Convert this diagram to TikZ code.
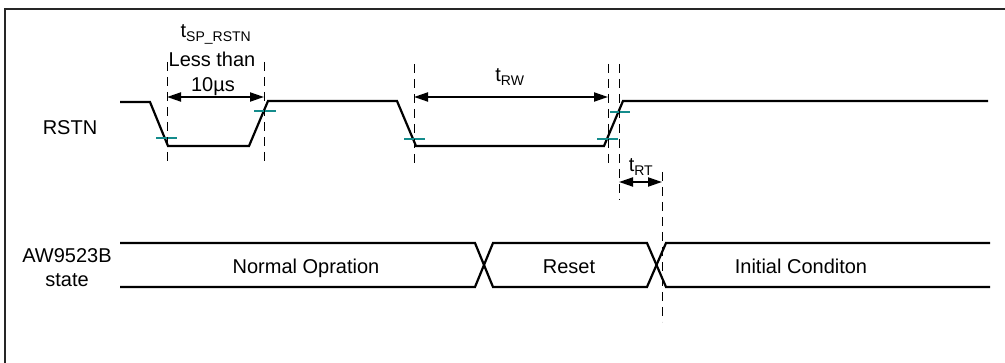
\documentclass[tikz,border=0pt]{standalone}
\usepackage{xcolor}
\usepackage{fontspec}
\setmainfont{Liberation Sans}
\usetikzlibrary{arrows.meta,positioning,calc}

\definecolor{tickteal}{RGB}{20,140,140}

\tikzset{
  sig/.style={line width=2.2pt, line join=miter},
  guide/.style={line width=1pt, dash pattern=on 9pt off 6pt},
  span/.style={{Triangle[length=14pt,width=9pt]}-{Triangle[length=14pt,width=9pt]}, line width=2pt},
  thresh/.style={draw=tickteal, line width=1.8pt},
  lbl/.style={font=\fontsize{20}{23}\selectfont, inner sep=0pt, anchor=base}
}

\begin{document}
\begin{tikzpicture}[x=1pt, y=-1pt]
    \useasboundingbox (0,0) rectangle (1005,363);
    % frame
    \draw [line width=2pt, draw=black!85] (5,363) -- (5,9) -- (1005,9);

    % labels
    \node (rstn) [lbl] at (70,135) {RSTN};
    \node (dev) [lbl] at (67,263) {AW9523B};
    \node (state) [lbl] at (67,287) {state};
    \node (tsp) [lbl] at (216,38) {t\textsubscript{SP\_RSTN}};
    \node (less) [lbl] at (212,67) {Less than};
    \node (tenus) [lbl] at (213,92) {10µs};
    \node (trw) [lbl] at (510,82) {t\textsubscript{RW}};
    \node (trt) [lbl] at (641,172) {t\textsubscript{RT}};
    \node (normal) [lbl] at (306,274) {Normal Opration};
    \node (reset) [lbl] at (569,274) {Reset};
    \node (initial) [lbl] at (801,274) {Initial Conditon};

    % RSTN waveform
    \draw [sig] (120,102) -- (150,102) -- (168,146) -- (249,146) -- (268,101)
        -- (397,101) -- (416,146) -- (604,146) -- (623,101) -- (988,101);

    % threshold ticks
    \draw [thresh] (156,138) -- (177,138);
    \draw [thresh] (254,111) -- (276,111);
    \draw [thresh] (404,139) -- (425,139);
    \draw [thresh] (597,139) -- (618,139);
    \draw [thresh] (610,112) -- (630,112);

    % state bus
    \draw [sig] (120,243) -- (475,243) -- (493,287) -- (647,287) -- (666,243) -- (990,243);
    \draw [sig] (120,287) -- (475,287) -- (493,243) -- (647,243) -- (666,287) -- (990,287);

    % guides
    \coordinate (g1t) at (167,62);  \coordinate (g1b) at (167,166);
    \coordinate (g2t) at (264,62);  \coordinate (g2b) at (264,166);
    \coordinate (g3t) at (414,64);  \coordinate (g3b) at (414,164);
    \coordinate (g4t) at (608,64);  \coordinate (g4b) at (608,164);
    \coordinate (g5t) at (619,64);  \coordinate (g5b) at (619,200);
    \coordinate (g6t) at (662,172); \coordinate (g6b) at (662,322);
    \draw [guide] (g1t) -- (g1b);
    \draw [guide] (g2t) -- (g2b);
    \draw [guide] (g3t) -- (g3b);
    \draw [guide] (g4t) -- (g4b);
    \draw [guide] (g5t) -- (g5b);
    \draw [guide] (g6t) -- (g6b);

    % timing spans
    \draw [span] (g1t |- 0,97) -- (g2t |- 0,97);
    \draw [span] (g3t |- 0,97) -- (g4t |- 0,97);
    \draw [span] (g5t |- 0,182) -- (g6t |- 0,182);
\end{tikzpicture}
\end{document}
